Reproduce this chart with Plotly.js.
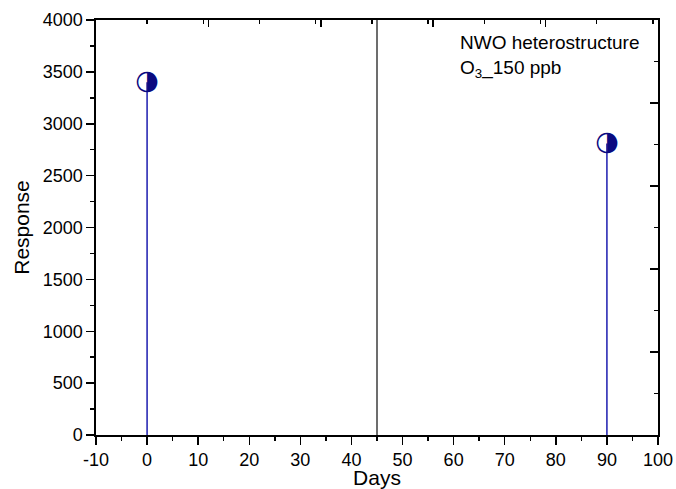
<!DOCTYPE html>
<html>
<head>
<meta charset="utf-8">
<script src="https://cdn.plot.ly/plotly-3.0.1.min.js"></script>
<style>html,body{margin:0;padding:0;background:#fff;}#chart{width:676px;height:489px;}</style>
</head>
<body>
<div id="chart"></div>
<script>
// Data
var days = [0, 90];
var response = [3400, 2810];
var dividerDay = [45];
var responseRange = [0, 4000];
var xTickVals = [-10, 0, 10, 20, 30, 40, 50, 60, 70, 80, 90, 100];
var xTickText = ["-10", "0", "10", "20", "30", "40", "50", "60", "70", "80", "90", "100"];
var annotationLines = ["NWO heterostructure", "O<sub>3</sub>_150 ppb"];

var FONT = "Liberation Sans, Arial, sans-serif";

// stems built from the data
var stemX = [], stemY = [];
for (var i = 0; i < days.length; i++) {
  stemX.push(days[i], days[i], null);
  stemY.push(0, response[i], null);
}

var traces = [
  {
    x: [dividerDay[0], dividerDay[0]], y: responseRange,
    mode: "lines", line: {color: "#3c3c3c", width: 1.5},
    hoverinfo: "skip", showlegend: false
  },
  {
    x: stemX, y: stemY, mode: "lines",
    line: {color: "#2a2ab4", width: 1.6},
    hoverinfo: "skip", showlegend: false
  },
  {
    x: days, y: response, mode: "text",
    text: days.map(function(){return "\u25D1";}),
    textposition: "middle center",
    textfont: {family: "DejaVu Sans", size: 27, color: "#0a0a80"},
    showlegend: false, hoverinfo: "skip"
  },
  {
    x: [], y: [], xaxis: "x2", yaxis: "y2", mode: "markers", showlegend: false
  }
];

var layout = {
  width: 676, height: 489,
  margin: {l: 96, r: 18, t: 20, b: 54},
  paper_bgcolor: "#ffffff", plot_bgcolor: "#ffffff",
  font: {family: FONT, size: 18, color: "#000"},
  showlegend: false,
  xaxis: {
    range: [-10, 100], tickmode: "array", tickvals: xTickVals, ticktext: xTickText,
    ticks: "outside", ticklen: 8, tickwidth: 1.5, tickcolor: "#000",
    minor: {dtick: 5, tick0: -10, ticks: "outside", ticklen: 4, tickwidth: 1.5, tickcolor: "#000"},
    showline: true, linecolor: "#000", linewidth: 1.6,
    showgrid: false, zeroline: false,
    tickfont: {family: FONT, size: 18},
    title: {text: "Days", font: {family: FONT, size: 21}, standoff: 4}
  },
  yaxis: {
    range: responseRange, tick0: 0, dtick: 500,
    ticks: "outside", ticklen: 8, tickwidth: 1.5, tickcolor: "#000",
    minor: {dtick: 250, ticks: "outside", ticklen: 4, tickwidth: 1.5, tickcolor: "#000"},
    showline: true, linecolor: "#000", linewidth: 1.6,
    showgrid: false, zeroline: false,
    tickfont: {family: FONT, size: 18},
    title: {text: "Response", font: {family: FONT, size: 21}, standoff: 7}
  },
  xaxis2: {
    overlaying: "x", side: "top", anchor: "y2",
    range: [-10, 100], tick0: -10, dtick: 22,
    ticks: "inside", ticklen: 7, tickwidth: 1.5, tickcolor: "#000",
    minor: {dtick: 11, ticks: "inside", ticklen: 4, tickwidth: 1.5, tickcolor: "#000"},
    showticklabels: false, showline: true, linecolor: "#000", linewidth: 1.6,
    showgrid: false, zeroline: false
  },
  yaxis2: {
    overlaying: "y", side: "right", anchor: "x2",
    range: responseRange, tick0: 0, dtick: 800,
    ticks: "inside", ticklen: 8, tickwidth: 1.5, tickcolor: "#000",
    minor: {dtick: 400, ticks: "inside", ticklen: 4, tickwidth: 1.5, tickcolor: "#000"},
    showticklabels: false, showline: true, linecolor: "#000", linewidth: 1.6,
    showgrid: false, zeroline: false
  },
  annotations: [{
    xref: "paper", yref: "paper", x: 0.644, y: 0.977,
    xanchor: "left", yanchor: "top", align: "left",
    text: annotationLines.join("<br>"), showarrow: false,
    font: {family: FONT, size: 19, color: "#000"}
  }]
};

Plotly.newPlot("chart", traces, layout, {displayModeBar: false, staticPlot: true});
</script>
</body>
</html>
